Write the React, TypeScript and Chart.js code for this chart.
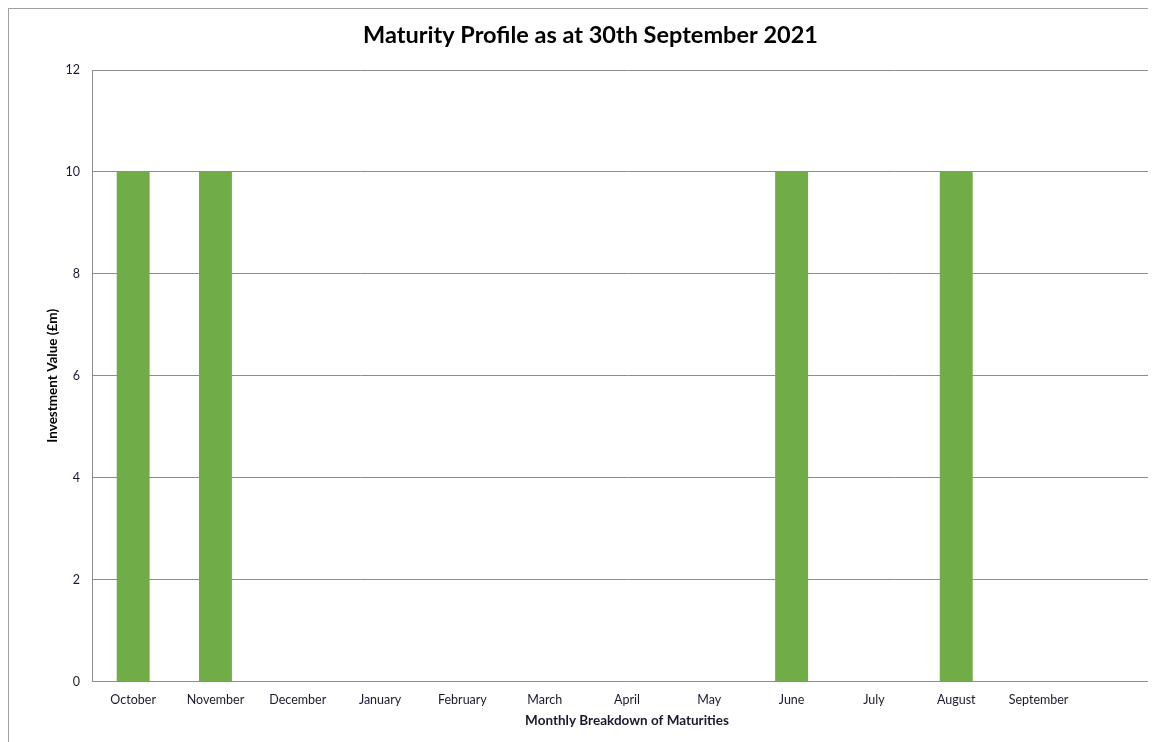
import React, { useEffect, useRef } from "react";
import { Chart, registerables } from "chart.js";

Chart.register(...registerables);

const chartTitle = "Maturity Profile as at 30th September 2021";
const months = [
  "October", "November", "December", "January", "February", "March",
  "April", "May", "June", "July", "August", "September", "",
];
const investmentValues = [10, 10, 0, 0, 0, 0, 0, 0, 10, 0, 10, 0, null];
const yTitle = "Investment Value (£m)";
const xTitle = "Monthly Breakdown of Maturities";
const yMin = 0;
const yMax = 12;
const yStep = 2;

const FONT = "Lato, 'Open Sans', sans-serif";

export default function App() {
  const ref = useRef<HTMLCanvasElement | null>(null);

  useEffect(() => {
    document.documentElement.style.overflow = "hidden";
    if (!ref.current) return;
    const chart = new Chart(ref.current, {
      type: "bar",
      data: {
        labels: months,
        datasets: [
          {
            label: "Investment Value",
            data: investmentValues,
            backgroundColor: "#70AD47",
            borderWidth: 0,
            barPercentage: 0.4,
            categoryPercentage: 1,
          },
        ],
      },
      options: {
        animation: false,
        responsive: false,
        devicePixelRatio: 1,
        layout: { padding: { left: 10, right: 10, top: 0, bottom: 6.9 } },
        plugins: {
          legend: { display: false },
          tooltip: { enabled: false },
          title: {
            display: true,
            text: chartTitle,
            color: "#000000",
            font: { family: FONT, size: 23.5, weight: "bold" },
            padding: { top: 12, bottom: 20.8 },
          },
        },
        scales: {
          x: {
            grid: { display: false, drawTicks: false },
            border: { display: true, color: "#8c8c8c", width: 1 },
            ticks: {
              color: "#1a1a2e",
              font: { family: FONT, size: 12.5 },
              padding: 11.2,
              maxRotation: 0,
              autoSkip: false,
            },
            title: {
              display: true,
              text: xTitle,
              color: "#1a1a2e",
              font: { family: FONT, size: 13.5, weight: "bold" },
              padding: { top: 4, bottom: 4 },
            },
            afterFit: (scale: any) => {
              scale.height = 51.6;
            },
          },
          y: {
            min: yMin,
            max: yMax,
            grid: { color: "#8c8c8c", lineWidth: 1, drawTicks: false },
            border: { display: true, color: "#8c8c8c", width: 1 },
            ticks: {
              stepSize: yStep,
              color: "#1a1a2e",
              font: { family: FONT, size: 12.5 },
              padding: 12,
            },
            title: {
              display: true,
              text: yTitle,
              color: "#000000",
              font: { family: FONT, size: 13.5, weight: "bold" },
              padding: { top: 25.4, bottom: 0 },
            },
            afterFit: (scale: any) => {
              scale.width = 73;
            },
          },
        },
      },
    });
    return () => chart.destroy();
  }, []);

  return (
    <div style={{ width: 1170, height: 734, overflow: "hidden" }}>
      <div
        style={{
          width: 1170,
          height: 740,
          borderLeft: "1px solid #a0a0a0",
          borderTop: "1px solid #a0a0a0",
          boxSizing: "border-box",
          background: "#ffffff",
        }}
      >
        <canvas ref={ref} width={1163} height={731} style={{ display: "block" }} />
      </div>
    </div>
  );
}
